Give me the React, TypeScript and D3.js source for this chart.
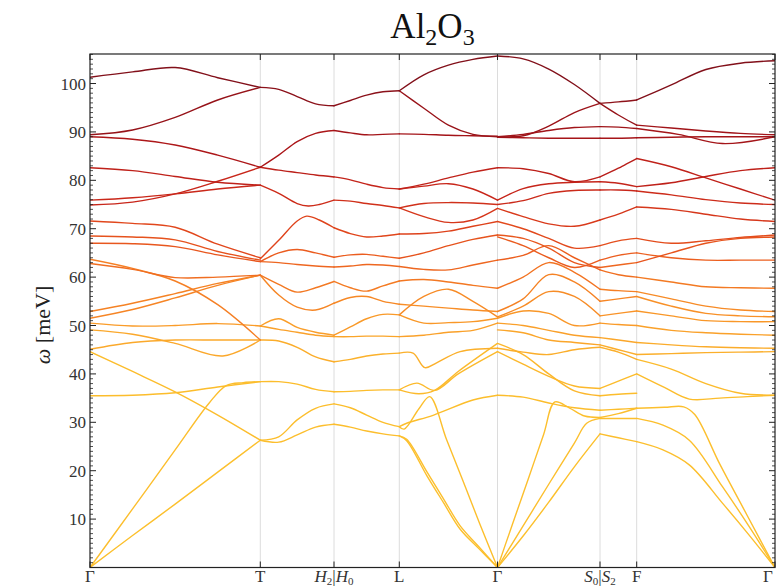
import React from "react";
import * as d3 from "d3";

// High-symmetry path (cumulative path length) and its labels
const kLabels = ["Γ", "T", "H2|H0", "L", "Γ", "S0|S2", "F", "Γ"];
const kTicks = [0, 1.703, 2.44, 3.093, 4.075, 5.1, 5.467, 6.85];
const wTicks = [10, 20, 30, 40, 50, 60, 70, 80, 90, 100];
const wMax = 106.1;

// Default sampling inside a segment (fraction of the segment length)
const g5 = [0, 0.25, 0.5, 0.75, 1];
const g3 = [0, 0.5, 1];

// Phonon branches, meV. Plain arrays are sampled on the segment grid,
// objects carry their own sample fractions.
const bandsGT = [
  [101.3, 102.4, 103.3, 101.2, 99.2],
  [89.4, 90.4, 93.0, 96.6, 99.2],
  [89.0, 88.5, 87.3, 85.2, 82.7],
  [82.6, 82.0, 80.8, 79.6, 79.0],
  [75.9, 76.4, 77.2, 78.2, 79.0],
  [74.9, 75.5, 77.2, 79.8, 82.7],
  [71.6, 71.1, 70.3, 66.8, 64.0],
  [68.5, 68.3, 67.7, 65.3, 63.5],
  [67.0, 66.9, 66.3, 64.6, 63.2],
  [63.7, 61.8, 59.2, 54.3, 47.0],
  [62.8, 61.6, 59.9, 60.0, 60.4],
  [52.9, 54.6, 56.6, 58.7, 60.4],
  [51.5, 53.3, 55.7, 58.3, 60.4],
  [50.5, 49.9, 50.0, 50.4, 49.9],
  { t: [0, 0.25, 0.5, 0.78, 1], w: [49.1, 48.2, 46.3, 43.7, 47.0] },
  [45.1, 46.5, 47.0, 47.0, 47.0],
  [44.6, 40.5, 36.3, 31.5, 26.3],
  [35.5, 35.6, 36.1, 37.3, 38.4],
  { t: [0, 0.25, 0.5, 0.7, 0.8, 0.9, 1], w: [0, 12.1, 24.3, 34.0, 37.6, 38.2, 38.4] },
  [0, 6.6, 13.1, 19.7, 26.3],
];

const bandsTH = [
  [99.2, 98.8, 97.3, 95.8, 95.4],
  [82.7, 85.2, 88.0, 89.7, 90.3],
  [82.7, 82.1, 81.6, 81.1, 80.7],
  { t: [0, 0.25, 0.5, 0.65, 0.8, 1], w: [79.0, 77.3, 75.2, 74.7, 75.0, 75.9] },
  { t: [0, 0.25, 0.5, 0.63, 0.8, 1], w: [63.8, 67.6, 71.6, 72.6, 71.8, 70.2] },
  [63.2, 65.0, 65.7, 65.0, 64.1],
  [63.2, 63.0, 62.6, 62.3, 62.1],
  [60.4, 58.5, 56.9, 57.8, 59.1],
  [60.4, 56.3, 53.8, 53.2, 54.6],
  [49.9, 51.4, 49.6, 48.6, 48.0],
  [49.9, 49.2, 48.6, 48.0, 47.7],
  [47.0, 46.8, 45.5, 43.5, 42.5],
  [38.4, 38.4, 37.9, 36.8, 36.3],
  [26.3, 27.0, 30.5, 32.9, 33.8],
  [26.3, 25.9, 27.4, 29.0, 29.6],
];

const bandsHL = [
  [95.4, 96.5, 97.6, 98.3, 98.5],
  [90.3, 89.8, 89.4, 89.5, 89.6],
  [80.7, 80.1, 79.2, 78.5, 78.2],
  [75.9, 75.7, 75.2, 74.8, 74.3],
  [70.2, 69.0, 68.3, 68.5, 68.9],
  [64.1, 64.6, 64.7, 64.3, 63.9],
  [62.1, 62.3, 62.6, 62.5, 62.2],
  [59.1, 57.8, 57.1, 58.2, 59.2],
  [54.6, 55.8, 56.0, 55.0, 54.4],
  [48.0, 49.7, 51.4, 52.3, 52.2],
  [47.7, 47.7, 47.8, 47.8, 47.7],
  [42.5, 43.0, 43.7, 44.1, 44.3],
  [36.3, 36.4, 36.6, 36.7, 36.7],
  [33.8, 33.0, 31.5, 30.0, 29.1],
  [29.6, 29.0, 28.2, 27.6, 27.2],
];

const bandsLG = [
  [98.5, 101.8, 103.8, 105.0, 105.7],
  [98.5, 94.9, 91.4, 89.5, 89.0],
  [89.6, 89.5, 89.3, 89.2, 89.1],
  [78.2, 79.2, 80.5, 81.7, 82.6],
  [78.2, 78.8, 79.3, 78.2, 75.9],
  [74.3, 75.2, 75.4, 75.3, 75.0],
  [74.3, 72.5, 71.3, 71.8, 74.2],
  [68.9, 69.0, 69.5, 70.5, 71.5],
  [63.9, 65.0, 66.5, 67.8, 68.7],
  [62.2, 61.6, 61.5, 62.5, 63.5],
  [59.2, 59.5, 59.0, 58.3, 57.7],
  [54.4, 54.0, 53.6, 53.2, 52.9],
  [52.2, 56.0, 57.5, 55.0, 51.8],
  [52.2, 50.5, 50.6, 50.8, 51.5],
  [47.7, 48.0, 48.6, 49.0, 50.5],
  { t: [0, 0.14, 0.26, 0.38, 0.62, 1], w: [44.3, 44.3, 41.3, 42.3, 44.6, 45.3] },
  { t: [0, 0.18, 0.36, 0.6, 1], w: [36.7, 38.1, 36.6, 40.0, 44.6] },
  { t: [0, 0.2, 0.36, 0.6, 1], w: [36.7, 35.9, 36.6, 40.5, 46.3] },
  { t: [0, 0.075, 0.35, 0.75, 1], w: [29.1, 29.8, 31.5, 34.6, 35.6] },
  { t: [0, 0.05, 0.2, 0.31, 0.48, 0.65, 0.82, 1], w: [29.1, 28.6, 32.8, 35.3, 26.5, 17.8, 9.0, 0] },
  { t: [0, 0.075, 0.28, 0.45, 0.62, 0.81, 1], w: [27.2, 26.5, 19.8, 14.2, 8.6, 4.3, 0] },
  { t: [0, 0.075, 0.28, 0.45, 0.62, 0.81, 1], w: [27.2, 26.2, 19.0, 13.4, 7.9, 3.9, 0] },
];

const bandsGS = [
  [105.7, 105.1, 103.0, 99.8, 95.9],
  [89.0, 89.2, 91.2, 94.0, 95.9],
  [89.0, 89.5, 90.3, 90.9, 91.1],
  [88.9, 88.8, 88.7, 88.7, 88.7],
  [82.6, 82.4, 81.4, 79.7, 80.7],
  [75.9, 78.3, 79.3, 79.6, 79.7],
  [75.0, 75.8, 77.3, 77.9, 78.0],
  [74.2, 72.5, 71.0, 70.5, 71.8],
  [71.5, 70.0, 68.0, 66.0, 66.5],
  [68.7, 68.0, 66.0, 63.0, 62.0],
  [68.3, 66.5, 64.0, 62.0, 63.5],
  [63.5, 64.5, 66.5, 64.0, 61.5],
  [57.7, 60.0, 63.0, 61.0, 57.5],
  [52.9, 55.5, 60.5, 59.0, 55.0],
  [51.8, 54.0, 57.0, 56.0, 52.0],
  [51.5, 53.0, 52.5, 50.0, 50.5],
  [50.5, 50.0, 49.0, 48.0, 47.5],
  [49.1, 48.5, 47.0, 46.5, 46.0],
  [45.3, 44.5, 44.0, 45.0, 45.5],
  [44.6, 42.0, 39.5, 37.5, 37.0],
  [46.3, 44.0, 40.0, 36.5, 35.5],
  [35.6, 35.2, 34.0, 33.0, 32.5],
  { t: [0, 0.15, 0.3, 0.45, 0.56, 0.7, 0.85, 1], w: [0, 9.2, 18.3, 27.5, 34.2, 33.0, 31.3, 31.0] },
  { t: [0, 0.25, 0.5, 0.75, 0.87, 1], w: [0, 8.6, 17.2, 25.7, 29.8, 30.8] },
  [0, 6.5, 13.5, 20.8, 27.6],
];

const bandsSF = [
  [95.9, 96.2, 96.6],
  [95.9, 93.5, 91.4],
  [91.1, 91.0, 90.7],
  [88.7, 88.7, 88.8],
  [80.7, 82.5, 84.5],
  [79.7, 79.4, 78.7],
  [78.0, 78.0, 77.8],
  [71.8, 73.0, 74.5],
  [66.5, 67.5, 68.0],
  [62.0, 62.5, 63.0],
  [63.5, 64.5, 65.0],
  [61.5, 60.5, 60.0],
  [57.5, 57.2, 57.0],
  [55.0, 55.5, 56.0],
  [52.0, 52.5, 53.0],
  [50.5, 50.2, 50.0],
  [47.5, 47.0, 46.5],
  [46.0, 45.0, 44.0],
  [45.5, 44.5, 43.0],
  [37.0, 38.5, 40.0],
  [35.5, 35.8, 36.0],
  [32.5, 32.7, 32.9],
  [31.0, 31.8, 32.9],
  [30.8, 30.8, 30.8],
  [27.6, 26.8, 26.0],
];

const bandsFG = [
  [96.6, 99.7, 102.9, 104.2, 104.7],
  [91.4, 90.8, 90.2, 89.7, 89.4],
  { t: [0, 0.3, 0.62, 1], w: [90.7, 89.5, 87.6, 89.0] },
  [88.8, 88.9, 89.0, 89.0, 89.0],
  [84.5, 82.8, 80.5, 78.2, 75.9],
  [78.7, 79.5, 80.8, 82.0, 82.6],
  [77.8, 77.0, 76.0, 75.3, 75.0],
  [74.5, 74.0, 73.0, 72.0, 71.5],
  [68.0, 67.0, 67.5, 68.2, 68.7],
  [63.0, 65.0, 67.0, 68.0, 68.3],
  [65.0, 64.0, 63.5, 63.5, 63.5],
  [60.0, 59.0, 58.0, 57.8, 57.7],
  [57.0, 55.5, 54.0, 53.2, 52.9],
  [56.0, 54.0, 52.5, 52.0, 51.8],
  [53.0, 52.0, 51.0, 50.8, 50.8],
  [50.0, 49.0, 48.5, 48.2, 48.0],
  [46.5, 46.0, 45.6, 45.4, 45.3],
  [44.0, 44.2, 44.4, 44.5, 44.6],
  [43.0, 41.0, 38.0, 36.0, 35.6],
  { t: [0, 0.2, 0.38, 0.6, 0.8, 1], w: [40.0, 37.2, 34.8, 35.0, 35.3, 35.6] },
  { t: [0, 0.2, 0.34, 0.42, 0.6, 0.8, 1], w: [32.9, 33.1, 33.2, 31.6, 21.4, 10.7, 0] },
  { t: [0, 0.19, 0.38, 0.62, 0.81, 1], w: [30.8, 29.4, 26.3, 16.7, 8.6, 0] },
  { t: [0, 0.19, 0.38, 0.62, 0.81, 1], w: [26.0, 24.3, 21.2, 13.3, 6.8, 0] },
];

const segments = [bandsGT, bandsTH, bandsHL, bandsLG, bandsGS, bandsSF, bandsFG];

// Colour ramp from the acoustic (gold) to the highest optical branch (dark red)
const colorW = [0, 38, 46, 52, 58, 64, 70, 78, 88, 100];
const colorC = [
  "#fcc12e", "#fcbd2c", "#fbab2b", "#f99528", "#f47c23",
  "#ec5f1f", "#de411b", "#c8261a", "#a81519", "#82101a",
];

const W = 777;
const H = 588;
const M = { left: 90, right: 775, top: 54, bottom: 567.5 };

function LabelText({ s }: { s: string }) {
  if (s.includes("|")) {
    const [a, b] = s.split("|");
    return (
      <>
        <tspan fontStyle="italic">{a[0]}</tspan>
        <tspan fontSize="11" dy="3">{a.slice(1)}</tspan>
        <tspan dy="-3">|</tspan>
        <tspan fontStyle="italic">{b[0]}</tspan>
        <tspan fontSize="11" dy="3">{b.slice(1)}</tspan>
      </>
    );
  }
  return <>{s}</>;
}

export default function App() {
  const x = d3.scaleLinear().domain([0, kTicks[kTicks.length - 1]]).range([M.left, M.right]);
  const y = d3.scaleLinear().domain([0, wMax]).range([M.bottom, M.top]);
  const color = d3.scaleLinear<string>().domain(colorW).range(colorC).clamp(true);
  const line = d3
    .line<[number, number]>()
    .x((d) => d[0])
    .y((d) => d[1])
    .curve(d3.curveCatmullRom.alpha(0.5));

  const paths: { d: string; c: string; m: number }[] = [];
  segments.forEach((bands, si) => {
    const k0 = kTicks[si];
    const k1 = kTicks[si + 1];
    bands.forEach((b: any) => {
      const w: number[] = Array.isArray(b) ? b : b.w;
      const t: number[] = Array.isArray(b) ? (w.length === 3 ? g3 : g5) : b.t;
      const pts = t.map((tt, j) => [x(k0 + tt * (k1 - k0)), y(w[j])] as [number, number]);
      const mean = d3.mean(w) as number;
      paths.push({ d: line(pts) as string, c: color(mean), m: mean });
    });
  });
  paths.sort((a, b) => a.m - b.m);

  const minor = d3.range(1, Math.floor(wMax) + 1).filter((v) => v % 10 !== 0);
  const serif = "'Liberation Serif', 'DejaVu Serif', serif";

  return (
    <svg width={W} height={H} style={{ display: "block", position: "absolute", left: 0, top: 0 }} fontFamily={serif}>
      <rect width={W} height={H} fill="#fff" />
      <text x={(M.left + M.right) / 2} y={38} textAnchor="middle" fontSize={35} fill="#111">
        Al<tspan fontSize={24} dy={7}>2</tspan>
        <tspan dy={-7}>O</tspan>
        <tspan fontSize={24} dy={7}>3</tspan>
      </text>

      {kTicks.slice(1, -1).map((k, i) => (
        <line key={"v" + i} x1={x(k)} x2={x(k)} y1={M.top} y2={M.bottom} stroke="#dcdcdc" strokeWidth={1} />
      ))}

      <defs>
        <clipPath id="plotArea">
          <rect x={M.left} y={M.top} width={M.right - M.left} height={M.bottom - M.top} />
        </clipPath>
      </defs>
      <g fill="none" strokeWidth={1.4} strokeLinecap="round" clipPath="url(#plotArea)">
        {paths.map((p, i) => (
          <path key={i} d={p.d} stroke={p.c} />
        ))}
      </g>

      <rect x={M.left} y={M.top} width={M.right - M.left} height={M.bottom - M.top} fill="none" stroke="#222" strokeWidth={1.2} />

      {wTicks.map((v) => (
        <g key={"t" + v} stroke="#222" strokeWidth={1}>
          <line x1={M.left} x2={M.left + 6} y1={y(v)} y2={y(v)} />
          <line x1={M.right} x2={M.right - 6} y1={y(v)} y2={y(v)} />
        </g>
      ))}
      {minor.map((v) => (
        <g key={"m" + v} stroke="#222" strokeWidth={0.8}>
          <line x1={M.left} x2={M.left + 3} y1={y(v)} y2={y(v)} />
          <line x1={M.right} x2={M.right - 3} y1={y(v)} y2={y(v)} />
        </g>
      ))}
      {kTicks.map((k, i) => (
        <g key={"k" + i} stroke="#222" strokeWidth={1}>
          <line x1={x(k)} x2={x(k)} y1={M.bottom} y2={M.bottom - 6} />
          <line x1={x(k)} x2={x(k)} y1={M.top} y2={M.top + 6} />
        </g>
      ))}

      {wTicks.map((v) => (
        <text key={"l" + v} x={M.left - 4} y={y(v) + 6} textAnchor="end" fontSize={17} fill="#333">
          {v}
        </text>
      ))}
      {kLabels.map((s, i) => (
        <text key={"kl" + i} x={Math.min(x(kTicks[i]), W - 9)} y={582} textAnchor="middle" fontSize={17} fill="#333">
          <LabelText s={s} />
        </text>
      ))}

      <text transform={`translate(50, ${325}) rotate(-90)`} textAnchor="middle" fontSize={22} fill="#222">
        <tspan fontStyle="italic">ω</tspan> [meV]
      </text>
    </svg>
  );
}
